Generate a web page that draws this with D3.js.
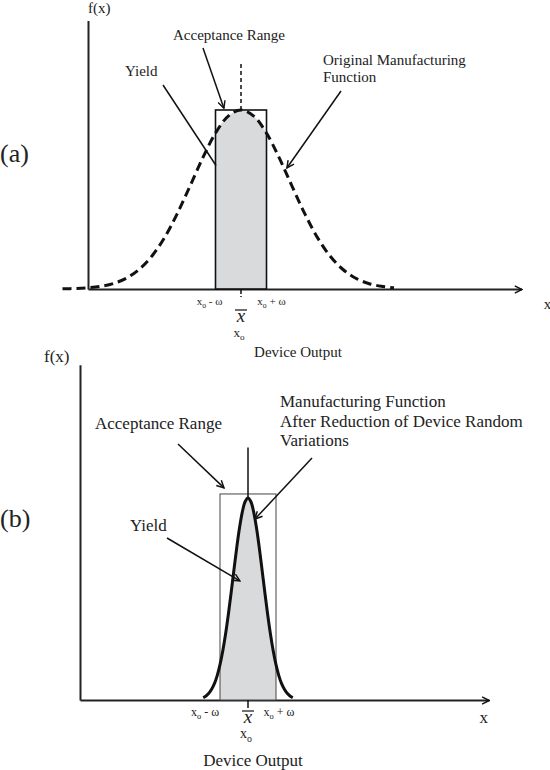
<!DOCTYPE html>
<html>
<head>
<meta charset="utf-8">
<script src="https://cdn.jsdelivr.net/npm/d3@7"></script>
<style>
body { margin: 0; background: #fff; }
svg text { font-family: "Liberation Serif", serif; fill: #222; }
</style>
</head>
<body>
<svg id="chart" width="550" height="770"></svg>
<script>
'use strict'

// panel (a): original manufacturing function (x in units of omega, centred on x0)
var uA = [-7, -6.5, -6, -5.5, -5, -4.5, -4, -3.5, -3, -2.5, -2, -1.5, -1, -0.5, 0,
	0.5, 1, 1.5, 2, 2.5, 3, 3.5, 4, 4.5, 5, 5.5, 6];
var fA = [0.001, 0.003, 0.007, 0.015, 0.031, 0.06, 0.109, 0.183, 0.287, 0.421, 0.575, 0.732, 0.871, 0.966, 1,
	0.966, 0.871, 0.732, 0.575, 0.421, 0.287, 0.183, 0.109, 0.06, 0.031, 0.015, 0.007];

// panel (b): after reduction of random variations
var uB = [-1.6, -1.5, -1.4, -1.3, -1.2, -1.1, -1, -0.9, -0.8, -0.7, -0.6, -0.5, -0.4, -0.3, -0.2, -0.1, 0,
	0.1, 0.2, 0.3, 0.4, 0.5, 0.6, 0.7, 0.8, 0.9, 1, 1.1, 1.2, 1.3, 1.4, 1.5, 1.6];
var fB = [0.012, 0.02, 0.033, 0.053, 0.081, 0.121, 0.175, 0.244, 0.328, 0.426, 0.534, 0.647, 0.757, 0.855, 0.933, 0.983, 1,
	0.983, 0.933, 0.855, 0.757, 0.647, 0.534, 0.426, 0.328, 0.244, 0.175, 0.121, 0.081, 0.053, 0.033, 0.02, 0.012];

// acceptance range [x0 - w, x0 + w] and box height
var rangeA = [-1, 1, 1.0];
var rangeB = [-1, 1, 1.02];

var tickLabels = ['- \u03c9', '+ \u03c9'];

var svg = d3.select('#chart');

var defs = svg.append('defs');
defs.append('marker')
	.attr('id', 'arr')
	.attr('viewBox', '0 0 10 10')
	.attr('refX', 9).attr('refY', 5)
	.attr('markerWidth', 9).attr('markerHeight', 9)
	.attr('markerUnits', 'userSpaceOnUse')
	.attr('orient', 'auto')
	.append('path')
	.attr('d', 'M1,1 L9,5 L1,9')
	.attr('fill', 'none')
	.attr('stroke', '#111')
	.attr('stroke-width', 1.6);

function sub(t, main, s, size){
	t.append('tspan').text(main);
	t.append('tspan').text(s).attr('font-size', size * 0.7).attr('dy', size * 0.25);
	return t;
}

function drawPanel(o){
	var g = svg.append('g');
	var x = o.x, y = o.y;

	// axes without ticks
	g.append('g')
		.attr('transform', `translate(0,${y(0)})`)
		.call(d3.axisBottom(x).tickValues([]).tickSizeOuter(0))
		.select('.domain')
		.attr('stroke', '#222').attr('stroke-width', 2)
		.attr('marker-end', 'url(#arr)');
	g.append('g')
		.attr('transform', `translate(${x(x.domain()[0])},0)`)
		.call(d3.axisLeft(y).tickValues([]).tickSizeOuter(0))
		.select('.domain')
		.attr('stroke', '#222').attr('stroke-width', 2);

	var pts = o.u.map(function(d, i){ return [d, o.f[i]]; });
	var line = d3.line()
		.x(function(d){ return x(d[0]); })
		.y(function(d){ return y(d[1]); })
		.curve(d3.curveCatmullRom);
	var area = d3.area()
		.x(function(d){ return x(d[0]); })
		.y0(y(0))
		.y1(function(d){ return y(d[1]); })
		.curve(d3.curveCatmullRom);

	var r = o.range;
	defs.append('clipPath').attr('id', 'clip' + o.id)
		.append('rect')
		.attr('x', x(r[0])).attr('y', y(r[2]) - 5)
		.attr('width', x(r[1]) - x(r[0]))
		.attr('height', y(0) - y(r[2]) + 5);

	g.append('path')
		.attr('d', area(pts))
		.attr('fill', '#d9dadc')
		.attr('clip-path', `url(#clip${o.id})`);

	g.append('rect')
		.attr('x', x(r[0])).attr('y', y(r[2]))
		.attr('width', x(r[1]) - x(r[0]))
		.attr('height', y(0) - y(r[2]))
		.attr('fill', 'none')
		.attr('stroke', o.rectColor)
		.attr('stroke-width', o.rectWidth);

	g.append('path')
		.attr('d', line(pts))
		.attr('fill', 'none')
		.attr('stroke', '#111')
		.attr('stroke-width', 3)
		.attr('stroke-dasharray', o.dash);

	// centre line above the peak and small tick below the axis
	g.append('line')
		.attr('x1', x(0)).attr('x2', x(0))
		.attr('y1', y(1)).attr('y2', y(o.centreTop))
		.attr('stroke', '#111').attr('stroke-width', 1.5)
		.attr('stroke-dasharray', o.centreDash);
	g.append('line')
		.attr('x1', x(0)).attr('x2', x(0))
		.attr('y1', y(0)).attr('y2', y(0) + 8)
		.attr('stroke', '#111').attr('stroke-width', 1.5)
		.attr('stroke-dasharray', o.tickDash);

	// x bar, x0 and range labels
	var fs = o.small;
	g.append('line')
		.attr('x1', x(0) - 6).attr('x2', x(0) + 6)
		.attr('y1', y(0) + o.barDy).attr('y2', y(0) + o.barDy)
		.attr('stroke', '#111').attr('stroke-width', 1.2);
	g.append('text')
		.attr('x', x(0)).attr('y', y(0) + o.barDy + 12)
		.attr('text-anchor', 'middle')
		.attr('font-style', 'italic')
		.attr('font-size', 19)
		.text('x');
	sub(g.append('text')
		.attr('x', x(0) - 2).attr('y', y(0) + o.barDy + 27)
		.attr('text-anchor', 'middle')
		.attr('font-size', fs + 2), 'x', 'o', fs + 2);

	[r[0], r[1]].forEach(function(v, i){
		var t = g.append('text')
			.attr('x', x(v) + o.labOff[i]).attr('y', y(0) + o.labDy)
			.attr('text-anchor', 'middle')
			.attr('font-size', fs);
		sub(t, 'x', 'o', fs);
		t.append('tspan').attr('dy', -fs * 0.25).text(' ' + tickLabels[i]);
	});

	g.append('text')
		.attr('x', o.devX).attr('y', o.devY)
		.attr('text-anchor', 'middle')
		.attr('font-size', o.big)
		.text('Device Output');

	g.append('text')
		.attr('x', x.range()[1] + o.xLab[0]).attr('y', y(0) + o.xLab[1])
		.attr('text-anchor', 'middle')
		.attr('font-size', o.big)
		.text('x');
	g.append('text')
		.attr('x', o.fxPos[0]).attr('y', o.fxPos[1])
		.attr('font-size', o.big)
		.text('f(x)');
	g.append('text')
		.attr('x', 0).attr('y', o.tagY)
		.attr('font-size', 26)
		.text(o.tag);

	// annotations: text lines and arrows pointing into the data space
	o.notes.forEach(function(n){
		var t = g.append('text')
			.attr('x', n.tx).attr('y', n.ty)
			.attr('font-size', o.big);
		n.lines.forEach(function(s, i){
			t.append('tspan').attr('x', n.tx).attr('dy', i ? o.big * 1.15 : 0).text(s);
		});
		g.append('line')
			.attr('x1', n.from[0]).attr('y1', n.from[1])
			.attr('x2', x(n.to[0])).attr('y2', y(n.to[1]))
			.attr('stroke', '#111').attr('stroke-width', 1.5)
			.attr('marker-end', n.head ? 'url(#arr)' : null);
	});
}

drawPanel({
	id: 'a', tag: '(a)', tagY: 162,
	x: d3.scaleLinear().domain([-6, 11]).range([88, 521.5]),
	y: d3.scaleLinear().domain([0, 1.5]).range([289, 20.5]),
	u: uA, f: fA, range: rangeA,
	rectColor: '#111', rectWidth: 1.6,
	dash: '9,5', centreTop: 1.27, centreDash: '4,3', tickDash: '5,2',
	small: 11, big: 15, barDy: 21, labDy: 16, labOff: [-6, 5],
	devX: 298, devY: 357, xLab: [26, 20], fxPos: [88, 13],
	notes: [
		{ lines: ['Acceptance Range'], tx: 173, ty: 40, from: [203, 48], to: [-0.67, 1.01], head: true },
		{ lines: ['Yield'], tx: 125, ty: 76, from: [163, 85], to: [-0.98, 0.69], head: false },
		{ lines: ['Original Manufacturing', 'Function'], tx: 323, ty: 65, from: [341, 91], to: [1.8, 0.676], head: true }
	]
});

drawPanel({
	id: 'b', tag: '(b)', tagY: 527,
	x: d3.scaleLinear().domain([-6, 8.6]).range([80, 488.8]),
	y: d3.scaleLinear().domain([0, 1.66]).range([700, 364.7]),
	u: uB, f: fB, range: rangeB,
	rectColor: '#444', rectWidth: 1,
	dash: null, centreTop: 1.25, centreDash: null, tickDash: null,
	small: 12, big: 17, barDy: 11, labDy: 16, labOff: [-15, 3],
	devX: 253, devY: 766, xLab: [-5, 23], fxPos: [44, 362],
	notes: [
		{ lines: ['Acceptance Range'], tx: 95, ty: 429, from: [178, 444], to: [-0.857, 1.05], head: true },
		{ lines: ['Yield'], tx: 130, ty: 531, from: [167, 538], to: [-0.29, 0.59], head: true },
		{ lines: ['Manufacturing Function', 'After Reduction of Device Random', 'Variations'], tx: 280, ty: 407, from: [312, 458], to: [0.25, 0.896], head: true }
	]
});
</script>
</body>
</html>
